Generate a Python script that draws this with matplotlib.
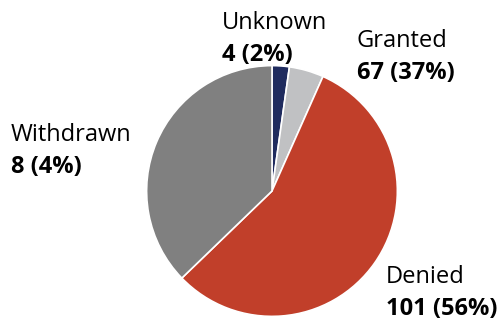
import matplotlib.pyplot as plt

categories = ["Unknown", "Withdrawn", "Denied", "Granted"]
counts = [4, 8, 101, 67]
percents = [2, 4, 56, 37]
colors = ["#1f2b5e", "#c0c1c3", "#c13f2a", "#808080"]

# label anchor points in pixels (left x, baseline y of first line)
label_pos = {
    "Unknown": (222, 29),
    "Granted": (357, 47),
    "Withdrawn": (11, 141),
    "Denied": (386, 283),
}

W, H = 501, 320
fig = plt.figure(figsize=(W / 100, H / 100), dpi=100)
plt.rcParams['font.family'] = ['Open Sans', 'DejaVu Sans']

cx, cy, r = 272, 191, 126
ax = fig.add_axes([(cx - r) / W, (H - cy - r) / H, 2 * r / W, 2 * r / H])
ax.pie(counts, colors=colors, startangle=90, counterclock=False,
       wedgeprops=dict(edgecolor="white", linewidth=1.2))
ax.set_xlim(-1.005, 1.005)
ax.set_ylim(-1.005, 1.005)
ax.axis("off")

for cat, n, p in zip(categories, counts, percents):
    x, y = label_pos[cat]
    fig.text(x / W, 1 - y / H, cat, fontsize=17, va="baseline", ha="left")
    fig.text(x / W, 1 - (y + 32) / H, f"{n} ({p}%)", fontsize=17,
             fontweight="bold", va="baseline", ha="left")

fig.savefig("out.png", dpi=100)
